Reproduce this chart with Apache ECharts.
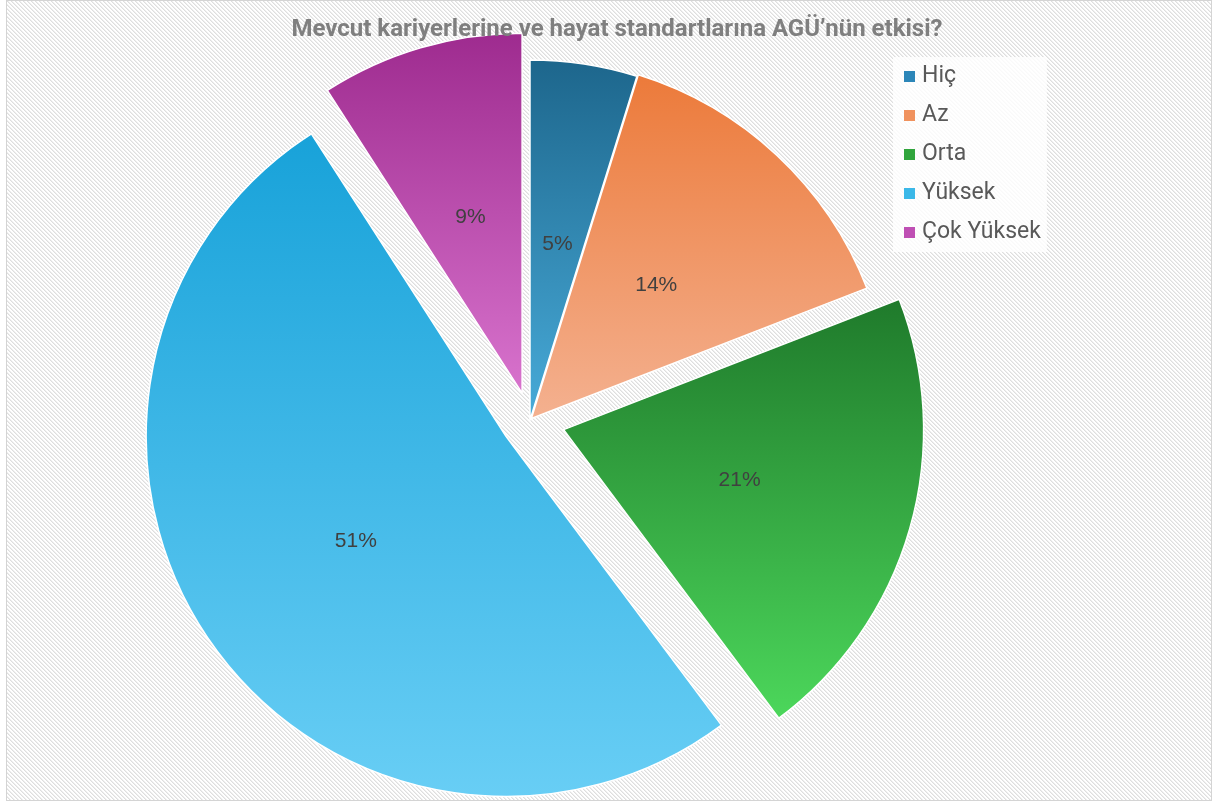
<!DOCTYPE html>
<html>
<head>
<meta charset="utf-8">
<script src="https://cdn.jsdelivr.net/npm/echarts@6/dist/echarts.min.js"></script>
<style>
  html, body { margin: 0; padding: 0; background: #fff; }
  #frame {
    position: absolute; left: 6px; top: 0; width: 1206px; height: 801px;
    box-sizing: border-box; border: 1px solid #d4d4d4;
  }
  #chart { position: absolute; left: 0; top: 0; width: 1216px; height: 804px; }
</style>
</head>
<body>
<div id="frame"></div>
<div id="chart"></div>
<script>
// data
const titleText = "Mevcut kariyerlerine ve hayat standartlarına AGÜ’nün etkisi?";
const categories = ["Hiç", "Az", "Orta", "Yüksek", "Çok Yüksek"];
const values = [4.8, 14.3, 20.7, 51.1, 9.1];
// explode distance of each slice (px)
const explode = [0, 2, 35, 29, 28];
const topColors = ["#1d668c", "#ec7a3a", "#1f7a2b", "#18a2d9", "#9e2b8f"];
const bottomColors = ["#48abd9", "#f4b190", "#4cd75b", "#68cef5", "#d873cd"];
const legendColors = ["#2c86b8", "#f0925e", "#30a53c", "#3bb8e8", "#bf4fb4"];

// hatched background tile
const tile = document.createElement("canvas");
tile.width = 4; tile.height = 4;
const tctx = tile.getContext("2d");
tctx.fillStyle = "#ffffff";
tctx.fillRect(0, 0, 4, 4);
for (let y = 0; y < 4; y++) {
  for (let x = 0; x < 4; x++) {
    const k = ((x - y) % 4 + 4) % 4;
    if (k === 0) { tctx.fillStyle = "#dedede"; tctx.fillRect(x, y, 1, 1); }
    if (k === 1) { tctx.fillStyle = "#eeeeee"; tctx.fillRect(x, y, 1, 1); }
  }
}
const frame = document.getElementById("frame");
frame.style.backgroundImage = "url(" + tile.toDataURL() + ")";

const chart = echarts.init(document.getElementById("chart"));

// one pie per slice so that every slice can have its own offset
const series = categories.map((name, i) => ({
  type: "pie",
  name: name,
  center: [530, 420],
  radius: [0, 360],
  startAngle: 90,
  clockwise: true,
  selectedMode: "single",
  selectedOffset: explode[i],
  silent: true,
  animation: false,
  percentPrecision: 0,
  labelLine: { show: false },
  data: categories.map((c, j) => {
    if (j !== i) {
      return {
        name: c,
        value: values[j],
        itemStyle: { color: "transparent", borderWidth: 0 },
        label: { show: false }
      };
    }
    return {
      name: c,
      value: values[j],
      selected: explode[i] > 0,
      itemStyle: {
        color: new echarts.graphic.LinearGradient(0, 0, 0, 1, [
          { offset: 0, color: topColors[i] },
          { offset: 1, color: bottomColors[i] }
        ]),
        borderColor: "#ffffff",
        borderWidth: 1.5
      },
      label: {
        show: true,
        position: "inside",
        formatter: "{d}%",
        color: "#404040",
        fontSize: 21,
        fontFamily: "Liberation Sans",
        offset: [0, 5]
      }
    };
  })
}));

const option = {
  backgroundColor: "transparent",
  title: {
    text: titleText,
    left: 612,
    top: 13,
    textAlign: "center",
    textStyle: {
      color: "#7f7f7f",
      fontSize: 24,
      fontWeight: "bold",
      fontFamily: "Roboto"
    }
  },
  legend: {
    orient: "vertical",
    left: 893,
    top: 57,
    padding: [8, 6, 8, 11],
    itemGap: 16,
    itemWidth: 11,
    itemHeight: 11,
    icon: "rect",
    backgroundColor: "rgba(255,255,255,0.8)",
    data: categories.map((c, i) => ({ name: c, itemStyle: { color: legendColors[i] } })),
    textStyle: { color: "#595959", fontSize: 23, fontFamily: "Roboto", padding: [0, 0, 0, 2] }
  },
  series: series
};

chart.setOption(option);
</script>
</body>
</html>
